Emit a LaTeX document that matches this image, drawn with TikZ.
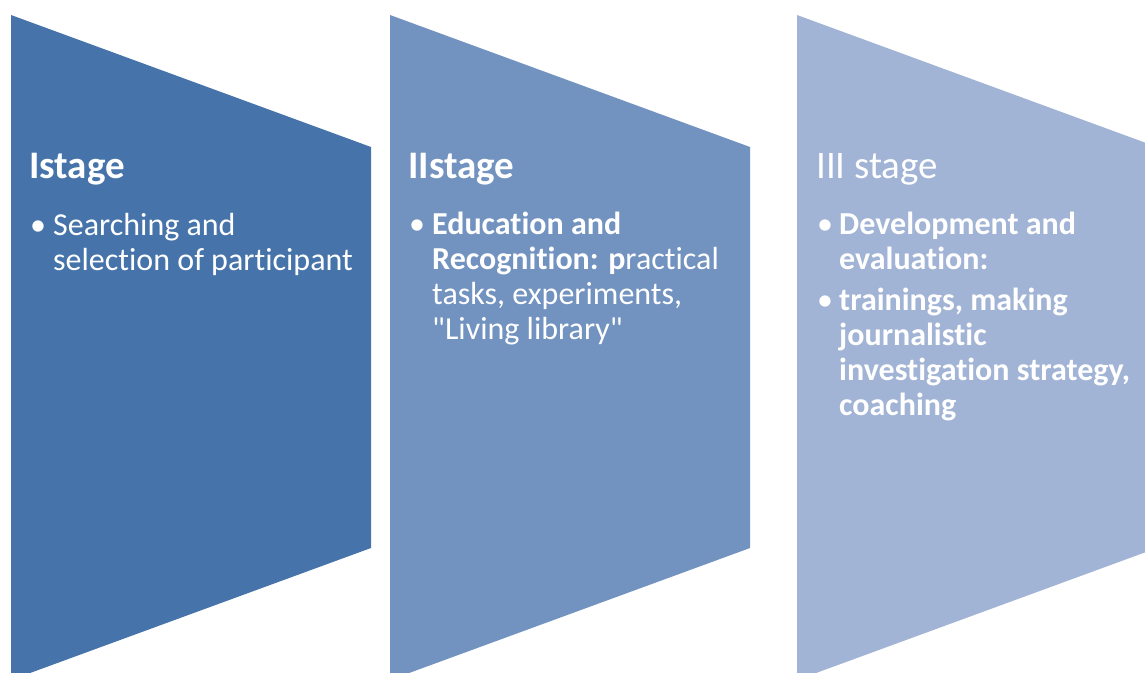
\documentclass[tikz,border=0pt]{standalone}
\usepackage{fontspec}
\setmainfont{Carlito}[Ligatures={TeXOff,CommonOff}]
\usepackage{tikz}
\usetikzlibrary{positioning}
\definecolor{stageone}{RGB}{70,116,170}
\definecolor{stagetwo}{RGB}{114,146,192}
\definecolor{stagethree}{RGB}{162,180,213}
\newcommand{\stagelines}[1]{\begin{tabular}[t]{@{}l@{}}#1\end{tabular}}

\begin{document}
\begin{tikzpicture}[
    x=1pt, y=-1pt,
    title/.style={anchor=base west, inner sep=0pt, text=white, font=\fontsize{39}{44}\selectfont},
    item/.style={anchor=base west, inner sep=0pt, text=white, font=\fontsize{32}{35}\selectfont},
    dot/.style={anchor=base west, inner sep=0pt, text=white, font=\fontsize{32}{35}\selectfont}
]
    \useasboundingbox (0,0) rectangle (1145,672);
    \clip (0,0) rectangle (1145,672);

    % Stage shapes
    \fill[stageone] (11,15) -- (371,147) -- (371,548) -- (11,680) -- cycle;
    \fill[stagetwo] (390,15) -- (750,147) -- (750,548) -- (390,680) -- cycle;
    \fill[stagethree] (797,15) -- (1157,147) -- (1157,548) -- (797,680) -- cycle;

    % I stage
    \node[title] (t1) at (29,178) {\bfseries Istage};
    \node[dot] (d1) at (30,235) {•};
    \node[item] (i1) at (53,235) {\stagelines{Searching and\\selection of participant}};

    % II stage
    \node[title] (t2) at (408,178) {\bfseries IIstage};
    \node[dot] (d2) at (409,234) {•};
    \node[item] (i2) at (432,234) {\stagelines{\textbf{Education and}\\\textbf{Recognition: p}ractical\\tasks, experiments,\\"Living library"}};

    % III stage
    \node[title] (t3) at (816,178) {III stage};
    \node[dot] (d3a) at (817,234) {•};
    \node[item] (i3a) at (839,234) {\stagelines{\textbf{Development and}\\\textbf{evaluation:}}};
    \node[dot] (d3b) at (817,310) {•};
    \node[item] (i3b) at (839,310) {\stagelines{\textbf{trainings, making}\\\textbf{journalistic}\\\textbf{investigation strategy,}\\\textbf{coaching}}};
\end{tikzpicture}
\end{document}
